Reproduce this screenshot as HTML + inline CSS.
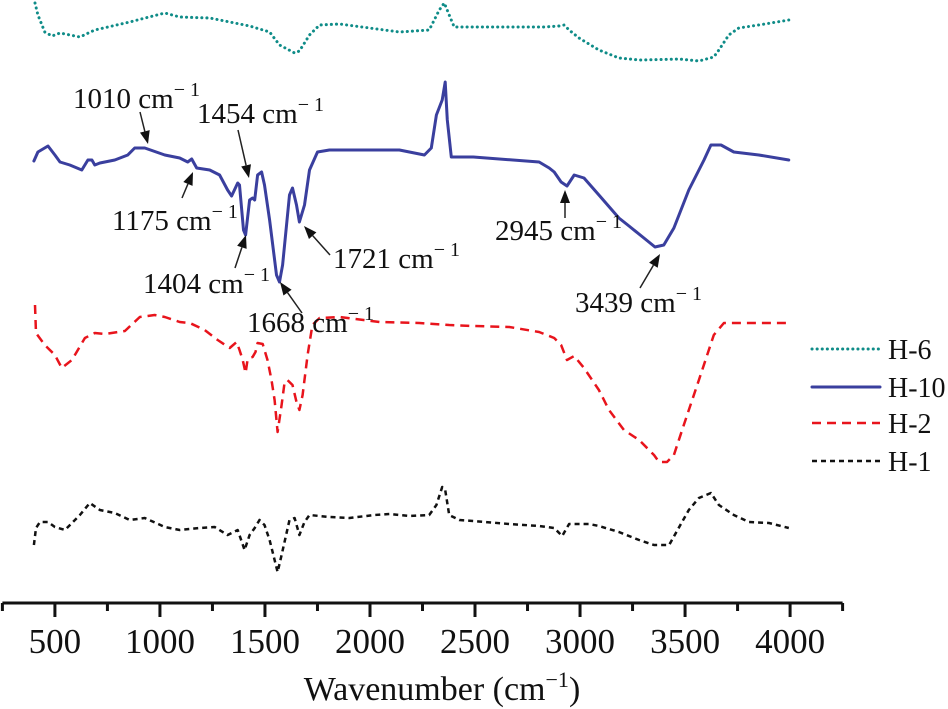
<!DOCTYPE html>
<html><head><meta charset="utf-8"><style>
html,body{margin:0;padding:0;background:#fff;}
svg{display:block;font-family:"Liberation Serif",serif;}
</style></head><body>
<svg id="chart" width="948" height="709" viewBox="0 0 948 709" xmlns="http://www.w3.org/2000/svg"></svg>
<script>
const tickValues=[500,1000,1500,2000,2500,3000,3500,4000];
const minorTicks=[250,750,1250,1750,2250,2750,3250,3750,4250];
const seriesNames=["H-6","H-10","H-2","H-1"];
const h6W=[405,419,452,486,524,619,690,856,1023,1094,1237,1427,1522,1569,1641,1664,1712,1760,1855,1997,2140,2282,2330,2354,2377,2401,2520,2829,2900,2924,2948,2995,3090,3185,3281,3471,3566,3637,3661,3708,3756,3851,3994];
const h6V=[697,685,668,664,667,663,670,678,687,683,682,674,668,655,647,649,665,675,676,672,668,670,690,697,685,673,673,673,674,675,670,662,650,642,640,641,639,643,650,665,672,675,680];
const h10W=[400,419,467,500,524,571,628,657,676,690,714,785,847,880,928,1023,1094,1132,1151,1175,1237,1284,1322,1341,1370,1379,1398,1408,1427,1441,1451,1465,1484,1498,1522,1555,1569,1584,1617,1631,1650,1664,1688,1712,1750,1807,2140,2259,2292,2316,2344,2358,2368,2387,2492,2805,2853,2877,2910,2938,2972,3019,3090,3185,3233,3304,3357,3399,3447,3518,3590,3623,3671,3732,3851,3994];
const h10V=[539,548,554,545,538,535,530,540,540,535,537,540,545,552,552,545,542,538,541,532,530,525,510,504,517,515,470,465,500,502,500,525,528,515,480,425,418,435,505,512,495,478,495,530,548,550,550,545,552,585,600,618,580,543,543,538,532,528,518,514,525,522,505,482,474,462,453,455,472,510,540,555,555,548,545,540];
const h2W=[405,410,452,500,533,581,643,690,738,833,904,975,1023,1094,1142,1213,1275,1332,1365,1379,1394,1408,1417,1427,1441,1455,1465,1489,1512,1531,1546,1560,1579,1593,1607,1631,1650,1664,1679,1703,1726,1760,1855,2045,2235,2377,2492,2663,2805,2877,2910,2938,2972,3019,3090,3138,3209,3281,3352,3376,3414,3447,3494,3566,3637,3685,3851,3994];
const h2V=[395,367,355,345,332,340,362,367,366,369,383,385,383,378,377,370,360,352,358,350,340,327,340,342,343,348,357,356,340,320,300,268,295,317,320,315,298,290,305,345,375,382,383,378,377,375,374,373,368,362,355,340,344,332,310,290,270,260,245,238,238,245,275,320,365,377,377,377];
const h1W=[400,410,429,467,500,548,619,666,714,785,856,928,1023,1094,1189,1260,1322,1370,1403,1427,1451,1474,1498,1522,1546,1560,1579,1617,1641,1664,1688,1712,1807,1902,2021,2092,2187,2282,2316,2344,2358,2377,2425,2492,2663,2805,2877,2915,2948,3043,3090,3185,3281,3352,3424,3518,3566,3623,3661,3732,3804,3899,3994];
const h1V=[155,172,178,178,173,170,185,197,190,187,180,182,173,170,172,173,165,170,150,165,172,180,175,160,140,128,145,180,182,165,178,185,183,182,185,186,184,185,195,213,210,185,180,179,176,174,172,164,176,176,174,168,160,155,155,190,202,207,195,185,178,177,172];
const annLabels=["1010","1454","1175","1404","1721","1668","2945","3439"];

const svg=document.getElementById('chart');
const NS='http://www.w3.org/2000/svg';
const X0=250,X1=4250,PX0=2.4,PX1=842.6;
function xs(w){return PX0+(w-X0)*(PX1-PX0)/(X1-X0);}
function ys(v){return 700-v;}
function mk(tag,attrs,parent){const e=document.createElementNS(NS,tag);for(const k in attrs)e.setAttribute(k,attrs[k]);(parent||svg).appendChild(e);return e;}

const axisG=mk('g',{});


const axl=mk('line',{x1:PX0,y1:603,x2:PX1,y2:603,stroke:'#111','stroke-width':3},axisG);


tickValues.forEach(t=>{
  const l=mk('line',{x1:xs(t),y1:603,x2:xs(t),y2:617,stroke:'#111','stroke-width':3},axisG);
  
  
  const tx=mk('text',{x:xs(t),y:653,'font-size':35,'text-anchor':'middle',fill:'#111'},axisG);
  tx.textContent=t;
  
  
});
minorTicks.forEach(t=>{
  const l=mk('line',{x1:xs(t),y1:603,x2:xs(t),y2:611,stroke:'#111','stroke-width':3},axisG);
  
  
});
const title=mk('text',{x:442,y:700,'font-size':34,'text-anchor':'middle',fill:'#111'});
title.innerHTML='Wavenumber (cm<tspan dy="-13" font-size="22">−1</tspan><tspan dy="13">)</tspan>';



const styles=[
 {w:h6W,v:h6V,c:'#0f8c88',sw:3,da:'0.1 5',lc:'round'},
 {w:h10W,v:h10V,c:'#3a3f9e',sw:3,da:'',lc:'round'},
 {w:h2W,v:h2V,c:'#e8141c',sw:2.5,da:'9 6',lc:'butt'},
 {w:h1W,v:h1V,c:'#111',sw:2.5,da:'5 4',lc:'butt'}];
styles.forEach((s,i)=>{
  const d=s.w.map((w,j)=>(j?'L':'M')+xs(w).toFixed(1)+' '+ys(s.v[j]).toFixed(1)).join(' ');
  const p=mk('path',{d:d,fill:'none',stroke:s.c,'stroke-width':s.sw,'stroke-dasharray':s.da,'stroke-linecap':s.lc,'stroke-linejoin':'round'});
  
  
  const ly=[349,387,423,461][i];
  const ll=mk('line',{x1:812,y1:ly,x2:880,y2:ly,stroke:s.c,'stroke-width':s.sw,'stroke-dasharray':s.da,'stroke-linecap':s.lc});
  
  
  const lt=mk('text',{x:888,y:ly+10,'font-size':28,fill:'#111'});
  lt.textContent=seriesNames[i];
  
  
});

const annTx=[73,197,112,143,333,247,495,575];
const annTy=[108,123,230,293,268,332,240,312];
const annArrow=[[140,112,148,144],[238,130,249,178],[182,198,193,172],[235,268,246,235],[330,255,304,226],[302,313,280,282],[565,218,565,190],[640,288,660,254]];
annLabels.forEach((lab,i)=>{
  const g=mk('g',{});
  
  
  const t=mk('text',{x:annTx[i],y:annTy[i],'font-size':29,fill:'#111'},g);
  t.innerHTML=lab+' cm<tspan dy="-12" font-size="20">− 1</tspan>';
  const [x1,y1,x2,y2]=annArrow[i];
  const ang=Math.atan2(y2-y1,x2-x1),L=13,W=5;
  const bx=x2-L*Math.cos(ang),by=y2-L*Math.sin(ang);
  mk('line',{x1:x1,y1:y1,x2:bx,y2:by,stroke:'#222','stroke-width':1.5},g);
  const px=-Math.sin(ang)*W,py=Math.cos(ang)*W;
  mk('polygon',{points:`${x2},${y2} ${bx+px},${by+py} ${bx-px},${by-py}`,fill:'#111'},g);
});
</script>
</body></html>
